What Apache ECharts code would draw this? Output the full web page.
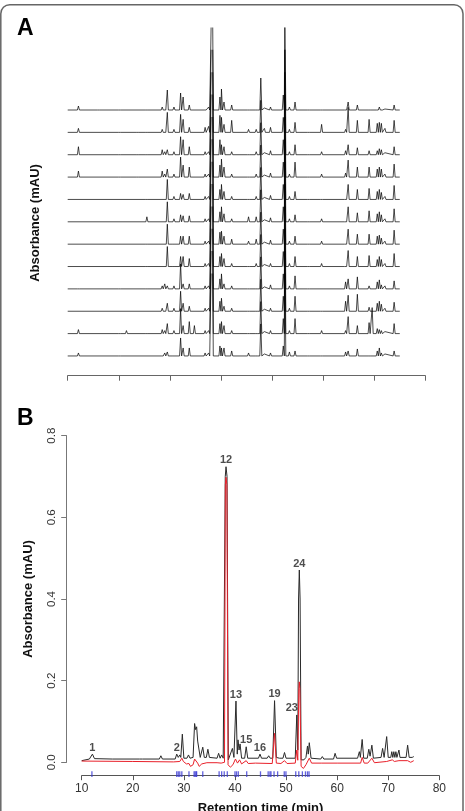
<!DOCTYPE html>
<html><head><meta charset="utf-8">
<script src="https://cdn.jsdelivr.net/npm/echarts@6/dist/echarts.min.js"></script>
<style>html,body{margin:0;padding:0;background:#fff}#c{width:465px;height:811px}</style>
</head><body><div id="c"></div>
<script>
// ---------- Panel A: 12 stacked chromatograms (relative absorbance, common peak list) ----------
const peakTimesA = [12.1, 16.0, 20.1, 21.5, 23.6, 25.5, 28.5, 29.0, 29.5, 30.8, 32.1, 32.6, 33.8, 34.8, 36.9, 37.6, 38.3, 39.8, 40.1, 40.6, 42.1, 45.4, 46.9, 47.8, 48.5, 49.7, 52.2, 52.5, 53.4, 54.5, 57.1, 59.7, 64.4, 64.9, 66.7, 69.0, 69.6, 70.6, 71.0, 71.4, 72.1, 73.9];
const traceA1  = [4,1,1,0,0,1, 3,2,20,3, 17,13,5,0, 2,3,153, 13,21,8, 5, 1,1,32,2,3, 15,100,3,8, 1,1, 2,8,5,2,0,2,3,2,1,5];
const traceA2  = [4,0,1,0,1,1, 3,2,20,3, 18,13,5,0, 5,6,153, 17,15,8, 12, 3,3,32,4,5, 15,100,3,10, 1,8, 3,25,12,13,0,9,10,9,4,12];
const traceA3  = [8,0,2,0,1,1, 5,3,5,3, 18,15,8,0, 3,3,153, 15,10,8, 3, 2,3,32,2,4, 15,100,3,10, 1,3, 4,10,7,4,0,4,6,5,2,8];
const traceA4  = [6,0,1,0,1,0, 6,3,8,3, 20,12,10,0, 3,3,153, 12,18,10, 3, 2,3,32,2,4, 15,100,3,15, 1,3, 4,17,10,10,0,8,10,8,3,13];
const traceA5  = [0,0,0,0,0,1, 0,0,20,3, 6,5,6,0, 3,3,153, 10,15,8, 3, 2,3,32,2,4, 15,100,3,8, 1,2, 2,15,10,11,0,8,10,7,3,14];
const traceA6  = [0,0,0,0,0,5, 0,0,20,3, 7,6,6,0, 3,3,153, 10,15,8, 3, 5,5,32,2,4, 15,100,3,7, 1,3, 2,15,9,11,0,8,10,7,3,13];
const traceA7  = [0,0,0,0,0,1, 0,0,20,2, 8,8,8,0, 3,3,153, 12,13,8, 5, 3,5,32,2,4, 15,100,3,8, 1,3, 2,15,10,10,0,8,9,6,3,14];
const traceA8  = [0,0,0,0,0,1, 0,0,20,2, 10,10,8,0, 3,3,153, 10,13,8, 3, 2,3,32,2,3, 15,100,3,10, 1,3, 2,16,10,11,0,7,10,7,3,13];
const traceA9  = [2,0,1,0,0,1, 3,5,3,3, 25,5,5,0, 3,3,153, 10,15,5, 3, 2,2,32,2,4, 15,100,3,13, 1,0, 7,10,12,3,0,7,9,4,3,8];
const traceA10 = [0,0,0,0,0,0, 3,1,8,3, 20,8,5,0, 3,3,153, 10,13,5, 3, 2,2,32,2,3, 15,100,3,15, 1,1, 10,16,17,4,0,8,10,7,3,9];
const traceA11 = [4,0,2,3,0,1, 4,3,10,3, 25,8,12,8, 3,3,153, 10,12,8, 3, 2,2,32,2,3, 15,100,3,15, 1,3, 3,17,8,11,26,5,4,3,2,10];
const traceA12 = [3,0,1,0,0,0, 2,3,4,2, 18,8,8,0, 3,3,153, 10,8,8, 5, 3,2,32,2,3, 10,100,4,5, 1,1, 4,5,7,2,0,5,8,3,2,5];
const tracesA = [traceA1,traceA2,traceA3,traceA4,traceA5,traceA6,traceA7,traceA8,traceA9,traceA10,traceA11,traceA12];

// ---------- Panel B: mean chromatogram (black) and second profile (red), [time, absorbance] ----------
const blackB = [[10,0.004],[11.5,0.008],[11.8,0.009],[12.1,0.020],[12.5,0.009],[16,0.008],[21.3,0.008],[21.6,0.012],[21.9,0.008],[25.2,0.008],[25.5,0.016],[25.8,0.008],[28.3,0.008],[28.6,0.020],[28.9,0.012],[29.2,0.018],[29.4,0.012],[29.7,0.069],[30.0,0.010],[30.6,0.010],[30.9,0.018],[31.2,0.010],[31.8,0.012],[32.1,0.095],[32.3,0.080],[32.5,0.087],[32.7,0.052],[32.9,0.050],[33.2,0.012],[33.5,0.012],[33.7,0.037],[34.0,0.012],[34.4,0.012],[34.7,0.032],[35.0,0.012],[36.5,0.010],[36.8,0.022],[37.1,0.010],[37.4,0.018],[37.7,0.010],[37.9,0.010],[38.1,0.700],[38.25,0.724],[38.45,0.700],[38.7,0.006],[39.0,0.010],[39.5,0.034],[39.8,0.012],[40.2,0.150],[40.45,0.020],[40.6,0.055],[40.8,0.030],[41.0,0.045],[41.3,0.010],[41.9,0.010],[42.2,0.038],[42.5,0.010],[44.6,0.010],[44.9,0.020],[45.2,0.010],[46.3,0.010],[46.6,0.016],[46.9,0.010],[47.4,0.010],[47.75,0.151],[48.1,0.012],[48.4,0.015],[48.7,0.010],[49.4,0.010],[49.7,0.024],[50.0,0.010],[51.8,0.010],[52.1,0.116],[52.3,0.030],[52.45,0.400],[52.6,0.471],[52.75,0.400],[52.95,0.006],[53.5,0.006],[53.9,0.012],[54.2,0.040],[54.35,0.020],[54.55,0.048],[54.9,0.010],[56.8,0.008],[57.1,0.014],[57.4,0.008],[59.3,0.008],[59.6,0.022],[59.9,0.010],[64.0,0.010],[64.35,0.026],[64.55,0.012],[64.9,0.056],[65.2,0.010],[65.9,0.010],[66.2,0.032],[66.45,0.015],[66.8,0.042],[67.1,0.010],[68.6,0.012],[68.9,0.034],[69.2,0.012],[69.7,0.063],[70.0,0.012],[70.5,0.012],[70.7,0.026],[70.9,0.012],[71.1,0.026],[71.3,0.012],[71.5,0.026],[71.7,0.012],[71.9,0.012],[72.1,0.030],[72.3,0.012],[73.5,0.012],[73.8,0.042],[74.1,0.012],[74.7,0.012],[75.0,0.014]];
const redB = [[10,0.003],[20,0.002],[28,0.001],[29.2,0.002],[29.6,0.010],[29.9,0.002],[30.5,-0.004],[31.0,-0.003],[31.3,-0.010],[31.8,-0.006],[32.1,0.008],[32.4,0.004],[32.7,-0.002],[33.0,-0.010],[33.5,-0.004],[34.5,-0.001],[36.5,-0.001],[37.3,-0.002],[37.95,0.000],[38.12,0.680],[38.25,0.698],[38.42,0.680],[38.65,-0.006],[39.1,-0.012],[39.6,-0.006],[40.1,0.008],[40.5,-0.002],[40.9,0.006],[41.3,-0.004],[42.2,0.004],[42.6,-0.003],[44,-0.002],[47.3,-0.003],[47.75,0.071],[48.1,-0.002],[49.0,-0.003],[49.7,0.004],[50.2,-0.003],[51.8,-0.002],[52.1,0.030],[52.3,0.005],[52.5,0.180],[52.6,0.197],[52.7,0.180],[52.95,-0.010],[53.4,-0.015],[53.9,-0.006],[54.55,0.010],[55.0,-0.002],[57,-0.002],[60,-0.002],[64.6,-0.002],[64.9,0.012],[65.3,-0.002],[66.0,-0.002],[66.8,0.010],[67.3,-0.001],[69.7,0.002],[70.8,0.006],[71.2,0.002],[72.1,0.004],[73.8,0.004],[74.4,0.000],[75,0.004]];
const labelNames   = ['1','2','12','13','15','16','19','23','24'];
const labelTimes   = [12.1, 28.6, 38.25, 40.2, 42.2, 44.9, 47.75, 52.1, 52.6];
const labelHeights = [0.020, 0.020, 0.724, 0.150, 0.038, 0.020, 0.151, 0.116, 0.471];
const rugTimes = [12.0, 28.6, 28.9, 29.2, 29.6, 31.0, 32.0, 32.2, 32.4, 32.5, 33.7, 36.9, 37.4, 37.9, 38.5, 40.0, 40.3, 40.65, 42.3, 45.0, 46.5, 46.85, 47.05, 47.65, 48.35, 49.65, 49.98, 51.9, 52.5, 53.2, 53.8, 54.2, 54.5];
const xTicksB = [10, 20, 30, 40, 50, 60, 70, 80];
const yTicksB = [0.0, 0.2, 0.4, 0.6, 0.8];

// ---------- build ----------
const FONT = '"Liberation Sans", Arial, Helvetica, sans-serif';
const HW = 0.2; // drawn half-width of each peak in panel A (min)
function spikes(times, heights) {
  const pts = [[10, 0]];
  times.forEach((t, i) => { const h = heights[i]; if (!h) return; pts.push([t - HW, 0], [t, h], [t + HW, 0]); });
  pts.push([75, 0]);
  return pts;
}
const NOB = { outerBoundsMode: 'none', containLabel: false };
const grids = [], xAxes = [], yAxes = [], series = [];
const LEFT_A = 67.7, RIGHT_A = 465 - 425.3;
tracesA.forEach((tr, i) => {
  const base = 110 + i * 22.36;
  grids.push(Object.assign({ left: LEFT_A, right: RIGHT_A, top: base - 82, height: 86 }, NOB));
  xAxes.push({ gridIndex: i, type: 'value', min: 10, max: 80, show: false });
  yAxes.push({ gridIndex: i, type: 'value', min: -4, max: 82, show: false });
  series.push({ type: 'line', xAxisIndex: i, yAxisIndex: i, data: spikes(peakTimesA, tr), symbol: 'none', clip: true,
    lineStyle: { color: 'rgba(0,0,0,0.7)', width: 1 }, silent: true });
});
// panel A x axis (no labels)
const gAx = grids.length;
grids.push(Object.assign({ left: LEFT_A, right: RIGHT_A, top: 300, height: 75.7 }, NOB));
xAxes.push({ gridIndex: gAx, type: 'value', min: 10, max: 80, interval: 10,
  axisLine: { onZero: false, lineStyle: { color: '#666', width: 1 } },
  axisTick: { length: 5, lineStyle: { color: '#666' } }, axisLabel: { show: false }, splitLine: { show: false } });
yAxes.push({ gridIndex: gAx, type: 'value', show: false });

// panel B
const gB = grids.length;
grids.push(Object.assign({ left: 81.7, right: 465 - 439.3, top: 435.7, height: 326.6 }, NOB));
xAxes.push({ gridIndex: gB, type: 'value', min: xTicksB[0], max: xTicksB[xTicksB.length - 1], interval: 10, offset: 13.4,
  name: 'Retention time (min)', nameLocation: 'middle', nameGap: 26,
  nameTextStyle: { fontFamily: FONT, fontWeight: 'bold', fontSize: 13, color: '#111' },
  axisLine: { onZero: false, lineStyle: { color: '#555', width: 1 } },
  axisTick: { length: 4.5, lineStyle: { color: '#555' } },
  axisLabel: { margin: 7, fontFamily: FONT, fontSize: 12, color: '#333' }, splitLine: { show: false } });
yAxes.push({ gridIndex: gB, type: 'value', min: yTicksB[0], max: yTicksB[yTicksB.length - 1], interval: 0.2, offset: 15,
  name: 'Absorbance (mAU)', nameLocation: 'middle', nameGap: 31.7,
  nameTextStyle: { fontFamily: FONT, fontWeight: 'bold', fontSize: 13, color: '#111' },
  axisLine: { show: true, onZero: false, lineStyle: { color: '#777', width: 1 } },
  axisTick: { show: true, length: 5.5, lineStyle: { color: '#777' } },
  axisLabel: { rotate: 90, margin: 9, fontFamily: FONT, fontSize: 11.5, color: '#333', formatter: v => v.toFixed(1) },
  splitLine: { show: false } });
series.push({ type: 'line', xAxisIndex: gB, yAxisIndex: gB, data: blackB, symbol: 'none', clip: false,
  lineStyle: { color: '#2a2a2a', width: 1 }, silent: true, z: 2 });
series.push({ type: 'line', xAxisIndex: gB, yAxisIndex: gB, data: redB, symbol: 'none', clip: false,
  lineStyle: { color: '#e8202a', width: 1 }, silent: true, z: 3 });
series.push({ type: 'scatter', xAxisIndex: gB, yAxisIndex: gB, symbolSize: 0, silent: true, z: 4,
  data: labelNames.map((n, i) => ({ value: [labelTimes[i], labelHeights[i]], name: n,
    label: n === '23' ? { offset: [-5, 0] } : undefined })),
  label: { show: true, position: 'top', distance: 1, formatter: p => p.name,
    fontFamily: FONT, fontWeight: 'bold', fontSize: 11, color: '#222' } });
// rug
const gR = grids.length;
grids.push(Object.assign({ left: 81.7, right: 465 - 439.3, top: 771.3, height: 5.6 }, NOB));
xAxes.push({ gridIndex: gR, type: 'value', min: 10, max: 80, show: false });
yAxes.push({ gridIndex: gR, type: 'value', min: -1, max: 1, show: false });
series.push({ type: 'scatter', xAxisIndex: gR, yAxisIndex: gR, data: rugTimes.map(t => [t, 0]),
  symbol: 'rect', symbolSize: [1.3, 5.6], itemStyle: { color: '#3b3bd4' }, silent: true, z: 5 });

const chart = echarts.init(document.getElementById('c'), null, { renderer: 'canvas' });
chart.setOption({
  animation: false,
  backgroundColor: '#fff',
  grid: grids, xAxis: xAxes, yAxis: yAxes, series: series,
  graphic: [
    { type: 'rect', shape: { x: 0.8, y: 4.7, width: 462.2, height: 840, r: 9 }, style: { fill: 'none', stroke: '#666', lineWidth: 1.5 }, silent: true },
    { type: 'text', x: 17, y: 29, style: { text: 'A', font: 'bold 23px ' + FONT, fill: '#000', textVerticalAlign: 'middle', verticalAlign: 'middle' } },
    { type: 'text', x: 17, y: 418.5, style: { text: 'B', font: 'bold 23px ' + FONT, fill: '#000', textVerticalAlign: 'middle', verticalAlign: 'middle' } },
    { type: 'text', x: 35, y: 223, rotation: Math.PI / 2, style: { text: 'Absorbance (mAU)', font: 'bold 13px ' + FONT, fill: '#111', textAlign: 'center', align: 'center', textVerticalAlign: 'middle', verticalAlign: 'middle' } }
  ]
});
</script></body></html>
